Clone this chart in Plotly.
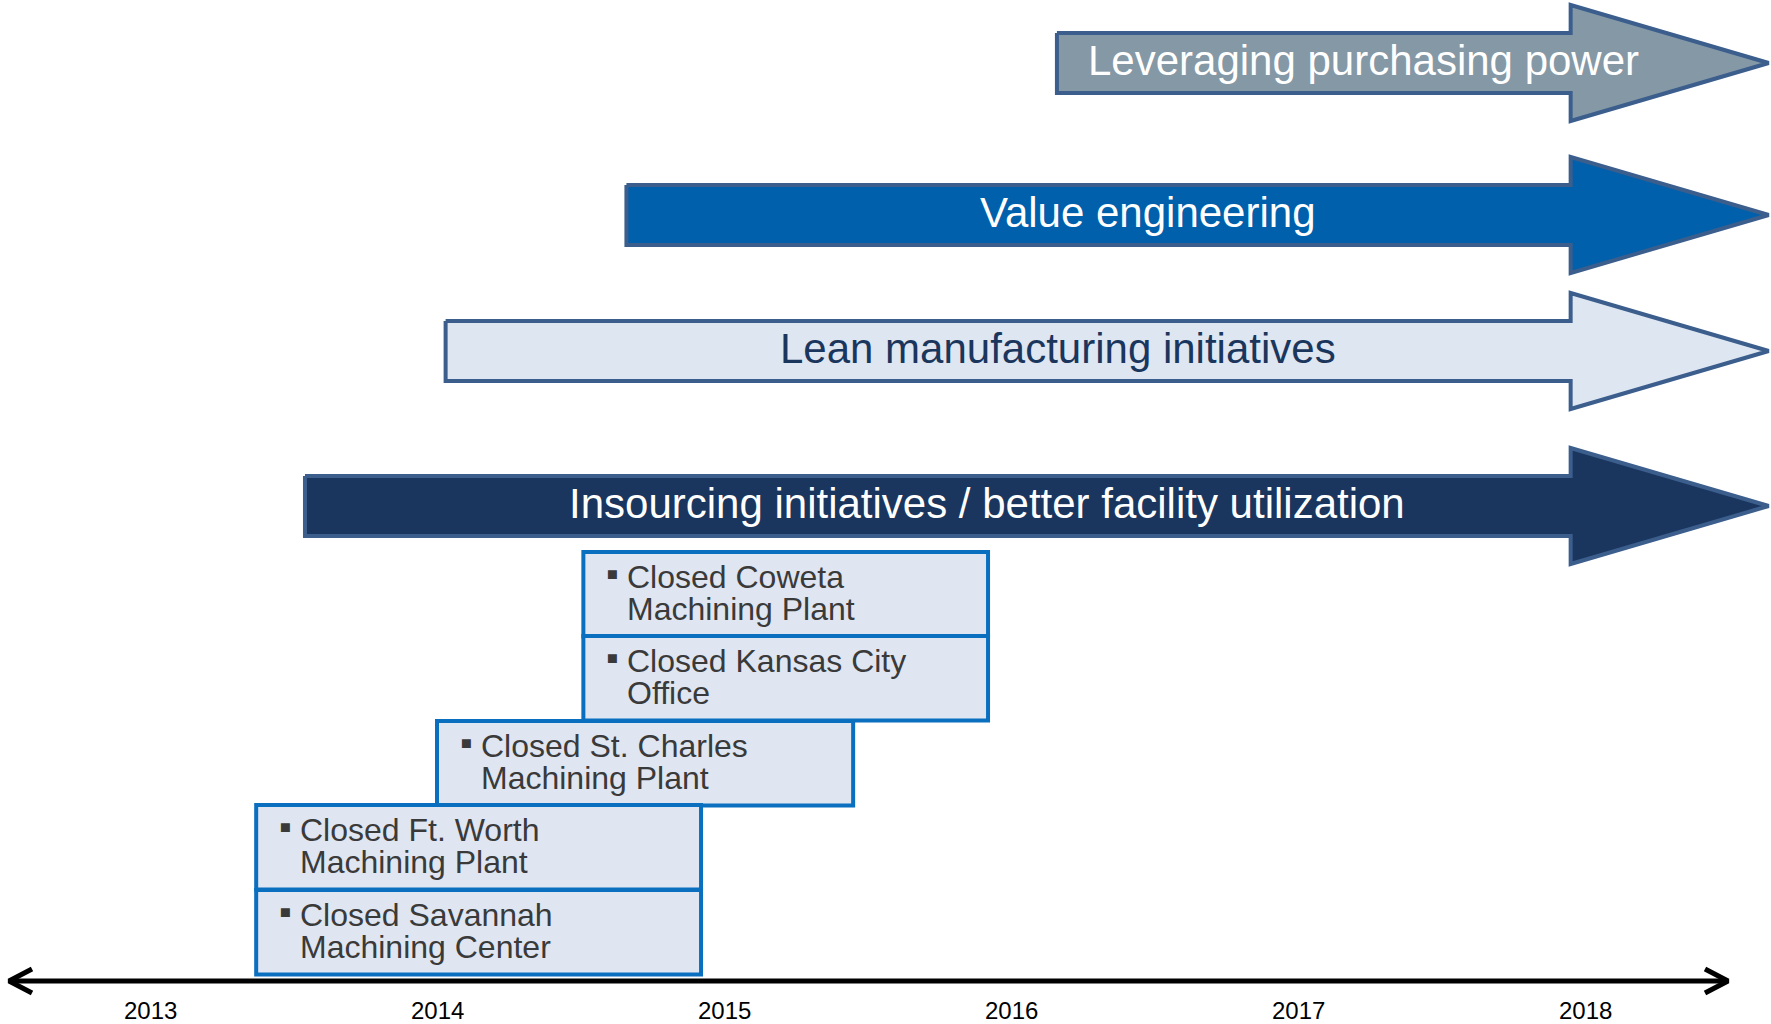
import plotly.graph_objects as go

# ---------------- data ----------------
initiative_labels = [
    "Leveraging purchasing power",
    "Value engineering",
    "Lean manufacturing initiatives",
    "Insourcing initiatives / better facility utilization",
]
initiative_start = [2016.16, 2014.66, 2014.03, 2013.54]
initiative_end = [2018.64, 2018.64, 2018.64, 2018.64]

closure_labels = [
    ["Closed Coweta", "Machining Plant"],
    ["Closed Kansas City", "Office"],
    ["Closed St. Charles", "Machining Plant"],
    ["Closed Ft. Worth", "Machining Plant"],
    ["Closed Savannah", "Machining Center"],
]
closure_start = [2014.51, 2014.51, 2014.00, 2013.37, 2013.37]
closure_end = [2015.92, 2015.92, 2015.45, 2014.92, 2014.92]

year_ticks = [2013, 2014, 2015, 2016, 2017, 2018]

# ---------------- layout / style ----------------
W, H = 1771, 1024
PX_PER_YEAR = 287.0
X0_PX = 150.0  # pixel of 2013


def yr(px):
    return 2013 + (px - X0_PX) / PX_PER_YEAR


x_range = [yr(0), yr(W)]

arrow_centers = [63, 215, 351, 506]
body_half = 30
head_half = 58
head_len_years = 0.69
arrow_fills = ["#8598A6", "#0060AB", "#DEE6F2", "#1A365E"]
arrow_text_colors = ["#FFFFFF", "#FFFFFF", "#1B365D", "#FFFFFF"]
arrow_border = "#3B5E8D"

box_tops = [552, 636, 721, 805, 890]
box_h = 84.5
box_fill = "#DFE6F2"
box_border = "#0B6FC0"
box_text = "#3A3A3A"

FONT = "Liberation Sans, Arial, sans-serif"

fig = go.Figure()
annotations = []
shapes = []

# initiative arrows
for lab, s, e, c, fc, tc in zip(initiative_labels, initiative_start, initiative_end,
                                 arrow_centers, arrow_fills, arrow_text_colors):
    hb = e - head_len_years
    xs = [s, hb, hb, e, hb, hb, s, s]
    ys = [c - body_half, c - body_half, c - head_half, c, c + head_half,
          c + body_half, c + body_half, c - body_half]
    fig.add_trace(go.Scatter(x=xs, y=ys, mode="lines", fill="toself",
                             fillcolor=fc, line=dict(color=arrow_border, width=4),
                             hoverinfo="skip", showlegend=False))
    tx = s / 2 + hb / 4 + e / 4
    annotations.append(dict(x=tx, y=c - 3, xref="x", yref="y", text=lab,
                            showarrow=False, xanchor="center", yanchor="middle",
                            font=dict(family=FONT, size=42, color=tc)))

# closure boxes
for lines, s, e, top in zip(closure_labels, closure_start, closure_end, box_tops):
    shapes.append(dict(type="rect", xref="x", yref="y", x0=s, x1=e,
                       y0=top, y1=top + box_h, fillcolor=box_fill,
                       line=dict(color=box_border, width=4), layer="below"))
    bx = s + 22 / PX_PER_YEAR
    tx = s + 43 / PX_PER_YEAR
    annotations.append(dict(x=bx, y=top + 21, xref="x", yref="y", text="▪",
                            showarrow=False, xanchor="left", yanchor="middle",
                            borderpad=0,
                            font=dict(family=FONT, size=36, color=box_text)))
    for i, ln in enumerate(lines):
        annotations.append(dict(x=tx, y=top + 25 + 32 * i, xref="x", yref="y",
                                text=ln, showarrow=False, xanchor="left",
                                yanchor="middle", borderpad=0,
                                font=dict(family=FONT, size=32, color=box_text)))

# timeline axis
axis_y = 981
xl, xr = yr(9), yr(1728)
fig.add_trace(go.Scatter(x=[xl, xr], y=[axis_y, axis_y], mode="lines",
                         line=dict(color="#000000", width=5),
                         hoverinfo="skip", showlegend=False))
arm_dx = 23 / PX_PER_YEAR
fig.add_trace(go.Scatter(x=[xl + arm_dx, xl, xl + arm_dx],
                         y=[axis_y - 12, axis_y, axis_y + 12], mode="lines",
                         line=dict(color="#000000", width=5),
                         hoverinfo="skip", showlegend=False))
fig.add_trace(go.Scatter(x=[xr - arm_dx, xr, xr - arm_dx],
                         y=[axis_y - 12, axis_y, axis_y + 12], mode="lines",
                         line=dict(color="#000000", width=5),
                         hoverinfo="skip", showlegend=False))
for yv in year_ticks:
    annotations.append(dict(x=yv, y=1010, xref="x", yref="y", text=str(yv),
                            showarrow=False, xanchor="center", yanchor="middle",
                            borderpad=0,
                            font=dict(family=FONT, size=24, color="#000000")))

fig.update_layout(
    width=W, height=H,
    margin=dict(l=0, r=0, t=0, b=0),
    paper_bgcolor="white", plot_bgcolor="white",
    xaxis=dict(range=x_range, visible=False, fixedrange=True),
    yaxis=dict(range=[H, 0], visible=False, fixedrange=True),
    shapes=shapes, annotations=annotations,
    showlegend=False,
)

fig.write_html(
    "out.html",
    config={"displayModeBar": False},
    post_script="document.body.style.margin='0';document.body.style.overflow='hidden';",
)
